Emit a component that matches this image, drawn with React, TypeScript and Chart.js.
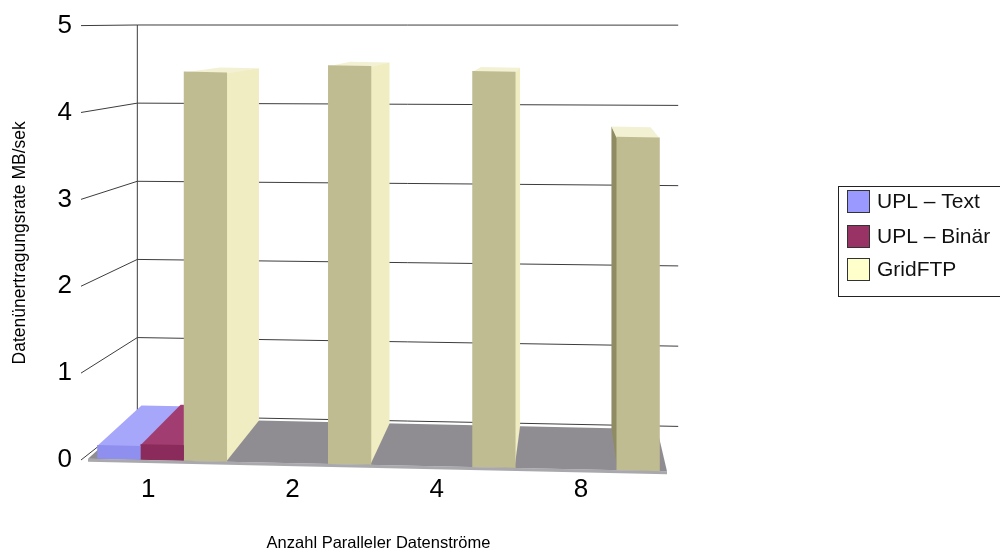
import { useEffect, useRef } from 'react';
import { Chart, registerables } from 'chart.js';

Chart.register(...registerables);

// Number of parallel streams (categories)
const streamCounts = ['1', '2', '4', '8'];
// Transfer rate in MB/s per series
const uplText = [0.16, null, null, null];
const uplBinary = [0.18, null, null, null];
const gridFtp = [4.48, 4.59, 4.56, 3.84];
const seriesNames = ['UPL – Text', 'UPL – Binär', 'GridFTP'];
const yTickValues = [0, 1, 2, 3, 4, 5];

const yTitle = 'Datenünertragungsrate MB/sek';
const xTitle = 'Anzahl Paralleler Datenströme';

// Colours: legend swatches, and the shaded faces of the 3D bars
const swatchColors = ['#9999ff', '#993366', '#ffffcc'];
const frontColors = ['#8f8fef', '#8b2b5b', '#c0bc92'];
const topColors = ['#a6a6fb', '#a13d70', '#f3f1d4'];
const rightSideColors = ['#7f7fdc', '#762250', '#f0edc2'];
const leftSideColors = ['#7f7fdc', '#762250', '#8f8c64'];

const FONT = '"Liberation Sans", Arial, Helvetica, sans-serif';

// Fake perspective: depth factors towards a vanishing point and a slight floor tilt
const BAR_DEPTH = 0.095;
const WALL_DEPTH = 0.1;
const VANISH_FRAC = 0.82;
const TILT = 0.022;
const TILT_PIVOT = 150;

type Pt = [number, number];

const depthPlugin = {
  id: 'depth3d',
  beforeDatasetsDraw(chart: any) {
    const { ctx, chartArea: a, scales } = chart;
    const ys = scales.y;
    const vx = a.left + (a.right - a.left) * VANISH_FRAC;
    const vy = a.top - 6;
    const back = (px: number, py: number, k: number): Pt => [px + (vx - px) * k, py + (vy - py) * k];
    const warp = (p: Pt): Pt => [p[0], p[1] + (TILT * (p[0] - TILT_PIVOT) * (p[1] - vy)) / (a.bottom - vy)];
    const line = (p: Pt, q: Pt) => {
      ctx.beginPath();
      ctx.moveTo(p[0], p[1]);
      ctx.lineTo(q[0], q[1]);
      ctx.stroke();
    };
    const poly = (pts: Pt[], fill: string) => {
      ctx.beginPath();
      ctx.moveTo(pts[0][0], pts[0][1]);
      for (let i = 1; i < pts.length; i++) ctx.lineTo(pts[i][0], pts[i][1]);
      ctx.closePath();
      ctx.fillStyle = fill;
      ctx.fill();
    };

    // back wall grid and tick connectors
    ctx.save();
    ctx.lineWidth = 1;
    ctx.strokeStyle = '#3c3c3c';
    for (const v of yTickValues) {
      const py = ys.getPixelForValue(v);
      const l = warp(back(a.left, py, WALL_DEPTH));
      const r = warp(back(a.right + 24, py, WALL_DEPTH));
      line(l, r);
      line([a.left - 9, py], l);
    }
    const wallTop = warp(back(a.left, ys.getPixelForValue(5), WALL_DEPTH));
    const wallBottom = warp(back(a.left, ys.getPixelForValue(0), WALL_DEPTH));
    line(wallTop, wallBottom);
    ctx.restore();

    // everything on the floor is tilted slightly
    ctx.save();
    ctx.transform(1, TILT, 0, 1, 0, -TILT * TILT_PIVOT);

    const base = ys.getPixelForValue(0);
    const fl = a.left - 2;
    const fr = a.right;
    // floor slab edge and surface
    poly([[fl, base], [fr, base], [fr, base + 3], [fl, base + 3]], '#a9a8ac');
    poly([[fl, base], [fr, base], back(fr, base, BAR_DEPTH), back(fl, base, BAR_DEPTH)], '#8f8d92');

    // side and top faces of each bar (overlapping the front by a pixel to avoid seams)
    chart.data.datasets.forEach((ds: any, di: number) => {
      const meta = chart.getDatasetMeta(di);
      meta.data.forEach((el: any, j: number) => {
        if (ds.data[j] == null) return;
        const { x, y, base: b, width } = el.getProps(['x', 'y', 'base', 'width'], true);
        const x1 = x - width / 2;
        const x2 = x + width / 2;
        if (x2 < vx) {
          const bt = back(x2, y, BAR_DEPTH);
          const bb = back(x2, b, BAR_DEPTH);
          poly([[x2 - 1, y], [x2 - 1, b], bb, bt], rightSideColors[di]);
        }
        if (x1 > vx) {
          const bt = back(x1, y, BAR_DEPTH);
          const bb = back(x1, b, BAR_DEPTH);
          poly([[x1 + 1, y], [x1 + 1, b], bb, bt], leftSideColors[di]);
        }
        poly([[x1, y + 1], [x2, y + 1], back(x2, y, BAR_DEPTH), back(x1, y, BAR_DEPTH)], topColors[di]);
      });
    });
  },
  afterDatasetsDraw(chart: any) {
    chart.ctx.restore();
  },
};

const legendPlugin = {
  id: 'boxLegend',
  afterDraw(chart: any) {
    const { ctx } = chart;
    ctx.save();
    ctx.strokeStyle = '#222';
    ctx.lineWidth = 1;
    ctx.fillStyle = '#fff';
    ctx.fillRect(838, 186, 170, 110);
    ctx.strokeRect(838.5, 186.5, 170, 110);
    ctx.font = `21px ${FONT}`;
    ctx.textBaseline = 'middle';
    ctx.textAlign = 'left';
    const rows = [190, 225, 258];
    chart.data.datasets.forEach((ds: any, i: number) => {
      const top = rows[i];
      ctx.fillStyle = swatchColors[i];
      ctx.fillRect(847, top, 23, 23);
      ctx.strokeStyle = '#333';
      ctx.strokeRect(847.5, top + 0.5, 22, 22);
      ctx.fillStyle = '#111';
      ctx.fillText(ds.label, 877, top + 12);
    });
    ctx.restore();
  },
};

export default function App() {
  const canvasRef = useRef<HTMLCanvasElement>(null);

  useEffect(() => {
    if (!canvasRef.current) return;
    const chart = new Chart(canvasRef.current, {
      type: 'bar',
      data: {
        labels: streamCounts,
        datasets: [
          { label: seriesNames[0], data: uplText, backgroundColor: frontColors[0] },
          { label: seriesNames[1], data: uplBinary, backgroundColor: frontColors[1] },
          { label: seriesNames[2], data: gridFtp, backgroundColor: frontColors[2] },
        ],
      },
      options: {
        animation: false,
        responsive: false,
        maintainAspectRatio: false,
        layout: { padding: { top: 17, right: 333, bottom: 0, left: 0 } },
        datasets: { bar: { categoryPercentage: 0.9, barPercentage: 1.0, borderWidth: 0 } },
        plugins: {
          legend: { display: false },
          tooltip: { enabled: false },
        },
        scales: {
          x: {
            type: 'category',
            grid: { display: false },
            border: { display: false },
            ticks: {
              color: '#000',
              font: { family: FONT, size: 26 },
              padding: 6,
              labelOffset: -14,
            },
            title: {
              display: true,
              text: xTitle,
              color: '#000',
              font: { family: FONT, size: 16.5 },
              padding: { top: 0, bottom: 0 },
            },
            afterFit: (scale: any) => {
              scale.height = 93;
            },
          },
          y: {
            min: 0,
            max: 5,
            grid: { display: false },
            border: { display: false },
            ticks: {
              stepSize: 1,
              color: '#000',
              font: { family: FONT, size: 26 },
              padding: 10,
            },
            title: {
              display: true,
              text: yTitle,
              color: '#000',
              font: { family: FONT, size: 17.5 },
              padding: { top: 10, bottom: 0 },
            },
            afterFit: (scale: any) => {
              scale.width = 90;
            },
          },
        },
      },
      plugins: [depthPlugin, legendPlugin],
    } as any);
    return () => chart.destroy();
  }, []);

  return (
    <div style={{ position: 'fixed', left: 0, top: 0, width: 1000, height: 553, background: '#fff' }}>
      <canvas ref={canvasRef} width={1000} height={553} style={{ display: 'block' }} />
    </div>
  );
}
